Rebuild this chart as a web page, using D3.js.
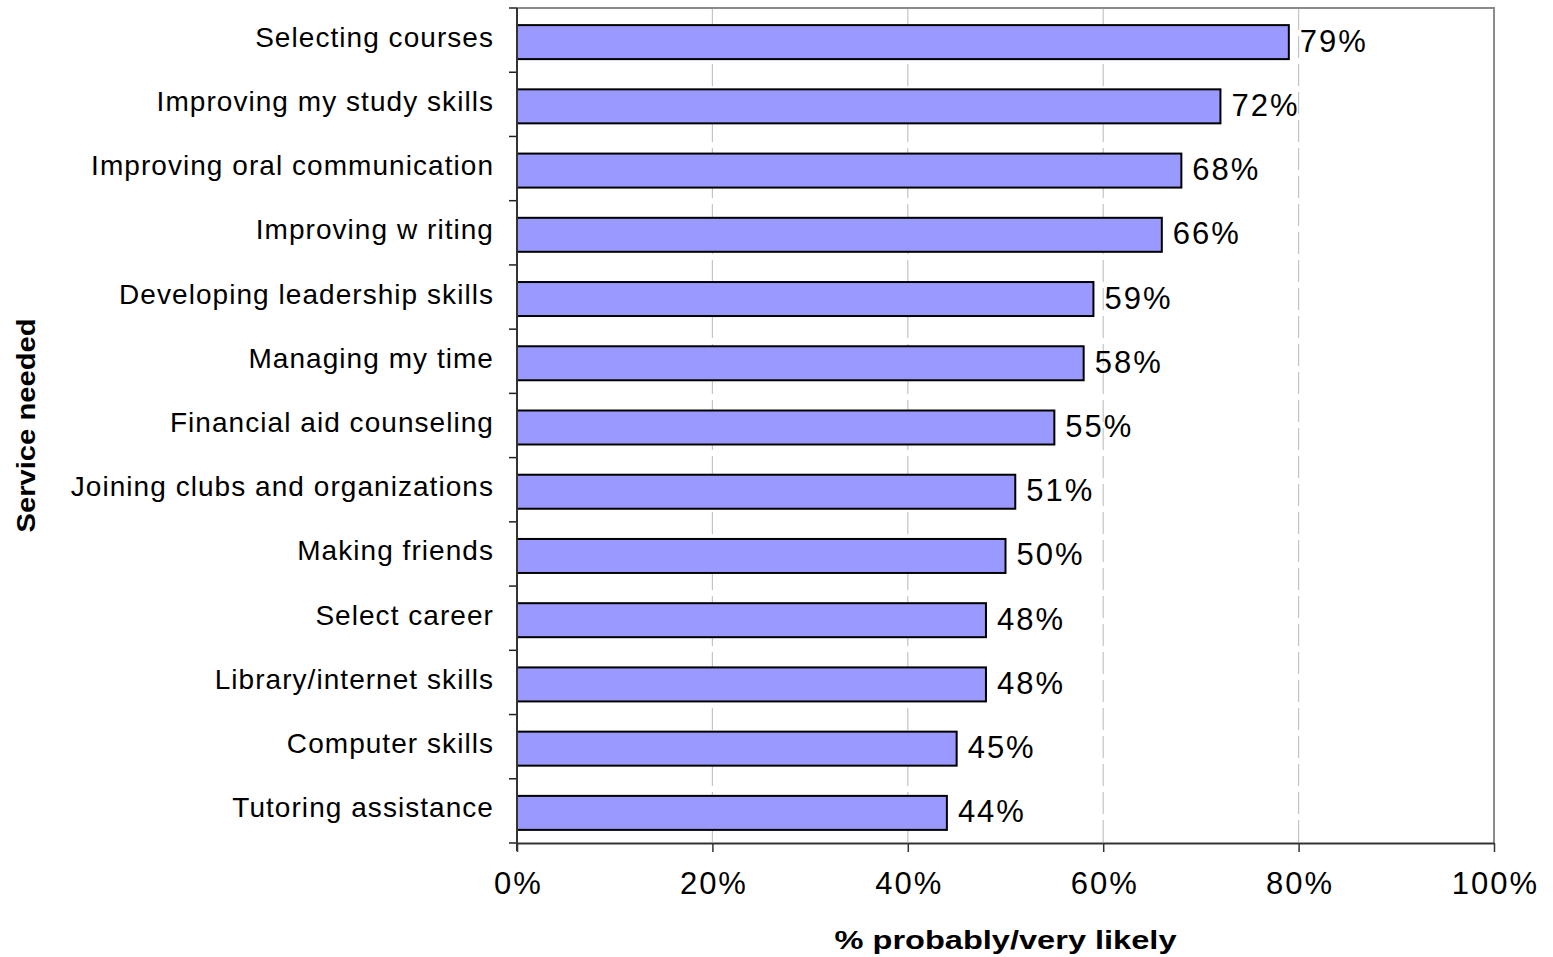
<!DOCTYPE html>
<html>
<head>
<meta charset="utf-8">
<script src="https://cdn.jsdelivr.net/npm/d3@7"></script>
<style>
  html, body { margin: 0; padding: 0; background: #fff; }
  svg { display: block; font-family: "Liberation Sans", Arial, sans-serif; }
</style>
</head>
<body>
<svg id="chart" width="1553" height="957"></svg>
<script>
// Share of respondents who would probably / very likely use each service
const categories = [
  "Selecting courses",
  "Improving my study skills",
  "Improving oral communication",
  "Improving w riting",
  "Developing leadership skills",
  "Managing my time",
  "Financial aid counseling",
  "Joining clubs and organizations",
  "Making friends",
  "Select career",
  "Library/internet skills",
  "Computer skills",
  "Tutoring assistance"
];
const values = [79, 72, 68, 66, 59, 58, 55, 51, 50, 48, 48, 45, 44];
const xTicks = [0, 20, 40, 60, 80, 100];
const xTitle = "% probably/very likely";
const yTitle = "Service needed";

const svg = d3.select("#chart");
const plot = { left: 517, right: 1494, top: 8, bottom: 843 };

const x = d3.scaleLinear().domain([0, 100]).range([plot.left, plot.right]);
const y = d3.scaleBand().domain(categories).range([plot.top, plot.bottom]).padding(0);
const barH = 34;
const barOffset = (y.bandwidth() - barH) / 2 + 2;

// dashed vertical gridlines
svg.append("g")
  .selectAll("line")
  .data(xTicks.filter(t => t > 0 && t < 100))
  .join("line")
  .attr("x1", d => x(d)).attr("x2", d => x(d))
  .attr("y1", plot.top).attr("y2", plot.bottom)
  .attr("stroke", "#c4c4c4")
  .attr("stroke-width", 1.2)
  .attr("stroke-dasharray", "22,6");

// top and right frame
svg.append("path")
  .attr("d", `M${plot.left},${plot.top}H${plot.right}V${plot.bottom}`)
  .attr("fill", "none")
  .attr("stroke", "#8a8a8a")
  .attr("stroke-width", 2);

// bars
svg.append("g")
  .selectAll("rect")
  .data(categories)
  .join("rect")
  .attr("x", x(0))
  .attr("y", d => y(d) + barOffset)
  .attr("width", (d, i) => x(values[i]) - x(0))
  .attr("height", barH)
  .attr("fill", "#9999ff")
  .attr("stroke", "#000")
  .attr("stroke-width", 2);

// value labels
svg.append("g")
  .selectAll("text")
  .data(categories)
  .join("text")
  .attr("x", (d, i) => x(values[i]) + 11)
  .attr("y", d => y(d) + y.bandwidth() / 2 + 11.5)
  .attr("font-size", 31)
  .attr("letter-spacing", 2)
  .attr("fill", "#000")
  .text((d, i) => values[i] + "%");

// y axis: band-boundary ticks on the outside, labels right-aligned
const yAxis = svg.append("g");
const boundaries = categories.map(c => y(c)).concat([plot.bottom]);
yAxis.selectAll("line.tick")
  .data(boundaries)
  .join("line")
  .attr("class", "tick")
  .attr("x1", plot.left - 8).attr("x2", plot.left)
  .attr("y1", d => d).attr("y2", d => d)
  .attr("stroke", "#222").attr("stroke-width", 1.5);
yAxis.append("line")
  .attr("x1", plot.left).attr("x2", plot.left)
  .attr("y1", plot.top).attr("y2", plot.bottom + 8)
  .attr("stroke", "#333").attr("stroke-width", 2);
yAxis.selectAll("text")
  .data(categories)
  .join("text")
  .attr("x", plot.left - 23)
  .attr("y", d => y(d) + y.bandwidth() / 2 + 6.5)
  .attr("text-anchor", "end")
  .attr("font-size", 28)
  .attr("letter-spacing", 1.05)
  .attr("fill", "#000")
  .text(d => d);

// x axis
const xAxis = d3.axisBottom(x)
  .tickValues(xTicks)
  .tickSize(9)
  .tickPadding(20)
  .tickFormat(d => d + "%");
const gx = svg.append("g")
  .attr("transform", `translate(0,${plot.bottom})`)
  .call(xAxis);
gx.select(".domain")
  .attr("d", `M${plot.left},0.5H${plot.right}`)
  .attr("stroke", "#333").attr("stroke-width", 2);
gx.selectAll(".tick line").attr("stroke", "#333").attr("stroke-width", 1.5);
gx.selectAll(".tick text")
  .attr("font-family", "Liberation Sans, Arial, sans-serif")
  .attr("font-size", 31)
  .attr("letter-spacing", 2)
  .attr("dx", 1)
  .attr("fill", "#000");

// axis titles
svg.append("text")
  .attr("x", (plot.left + plot.right) / 2)
  .attr("y", 949)
  .attr("text-anchor", "middle")
  .attr("font-size", 26)
  .attr("font-weight", "bold")
  .attr("textLength", 342)
  .attr("lengthAdjust", "spacingAndGlyphs")
  .text(xTitle);

svg.append("text")
  .attr("transform", `translate(35,${(plot.top + plot.bottom) / 2}) rotate(-90)`)
  .attr("text-anchor", "middle")
  .attr("font-size", 25)
  .attr("font-weight", "bold")
  .attr("textLength", 214)
  .attr("lengthAdjust", "spacingAndGlyphs")
  .text(yTitle);
</script>
</body>
</html>
